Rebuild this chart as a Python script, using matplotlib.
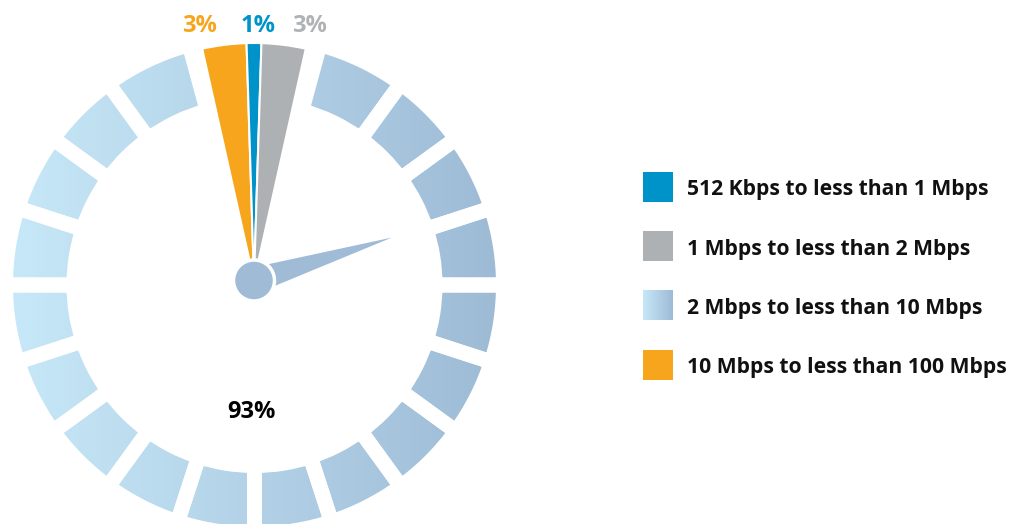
import numpy as np
import matplotlib
matplotlib.use('Agg')
import matplotlib.pyplot as plt
from matplotlib.patches import Wedge, Circle, Polygon, Rectangle
from matplotlib.path import Path
from matplotlib.colors import to_rgb

categories = ['512 Kbps to less than 1 Mbps', '1 Mbps to less than 2 Mbps',
              '2 Mbps to less than 10 Mbps', '10 Mbps to less than 100 Mbps']
shares = [1, 3, 93, 3]
colors = ['#0093c9', '#aeb1b4', None, '#f7a51c']
label_colors = ['#0093c9', '#b0b3b6', 'black', '#f7a51c']
grad_left, grad_right = '#c7e8f8', '#9ebbd6'
needle_color = '#a0bbd6'
needle_angle = 17.3

plt.rcParams['font.family'] = ['Open Sans', 'DejaVu Sans']

fig = plt.figure(figsize=(10.15, 5.24), dpi=100)
ax = fig.add_axes([0, 0, 1, 1])

H = 524
cx, cy = 254, H - 280.5          # hub / pie centre
rx, ry = 254.5, H - 285          # ring centre
pie_r = 237.5
r_out, r_in = 249, 180.5   # ring geometry before white gap stroke trims it
gap_pt = 10.8              # ~15 px white gaps
step = 18

# top wedges: orange, blue, grey, then the 93% ring
order = [3, 0, 1, 2]
start = 90 + shares[0] * 3.6 / 2 + shares[3] * 3.6
wedges, _ = ax.pie([shares[i] for i in order],
                   colors=[colors[i] if colors[i] else 'white' for i in order],
                   startangle=start, counterclock=False, radius=pie_r, center=(cx, cy),
                   wedgeprops=dict(edgecolor='white', linewidth=1.5))
for w in wedges[:3]:
    w.set_zorder(4)
ring = wedges[3]
ring.set_visible(False)

# split the 93% part into segments on an 18 degree grid
lo, hi = ring.theta1 + 2.6, ring.theta2 - 2.6
grid = [a for a in np.arange(90 - 20 * step, 90 + step, step) if lo + 5 < a < hi - 5]
bounds = [lo] + grid + [hi]
segs = [Wedge((rx, ry), r_out, a, b, width=r_out - r_in) for a, b in zip(bounds[:-1], bounds[1:])]

clip = Path.make_compound_path(*[s.get_path() for s in segs])
c0, c1 = np.array(to_rgb(grad_left)), np.array(to_rgb(grad_right))
t = np.linspace(0, 1, 256)[None, :, None]
grad = c0 + (c1 - c0) * t
im = ax.imshow(grad, extent=[rx - 241, rx + 242, ry - r_out, ry + r_out],
               aspect='auto', interpolation='bilinear', zorder=1)
im.set_clip_path(clip, transform=ax.transData)
for s in segs:
    s.set_facecolor('none')
    s.set_edgecolor('white')
    s.set_linewidth(gap_pt)
    s.set_zorder(2)
    ax.add_patch(s)

# needle and hub
th = np.deg2rad(needle_angle)
L, hw = 144.5, 13
ax.add_patch(Polygon([(cx - hw * np.sin(th), cy + hw * np.cos(th)),
                      (cx + hw * np.sin(th), cy - hw * np.cos(th)),
                      (cx + L * np.cos(th), cy + L * np.sin(th))],
                     closed=True, facecolor=needle_color, edgecolor='none', zorder=5))
ax.add_patch(Circle((cx, cy), 20.5, facecolor=needle_color, edgecolor='white',
                    linewidth=2.5, zorder=6))

# percent labels
for i, x, y in [(3, 200, H - 32), (0, 258.5, H - 32), (1, 309.5, H - 32), (2, 251, H - 418)]:
    ax.text(x, y, f'{shares[i]}%', color=label_colors[i], fontsize=17,
            fontweight='bold', ha='center', va='baseline')

# legend
for k, (name, col) in enumerate(zip(categories, colors)):
    yc = H - (187 + 59.2 * k)
    if col is None:
        ax.imshow(grad, extent=[643, 673, yc - 15, yc + 15], aspect='auto',
                  interpolation='bilinear', zorder=1)
    else:
        ax.add_patch(Rectangle((643, yc - 15), 30, 30, facecolor=col, edgecolor='none'))
    ax.text(687, yc - 8.5, name, fontsize=15.2, fontweight='bold',
            color='#111111', ha='left', va='baseline')

ax.set_xlim(0, 1015)
ax.set_ylim(0, H)
ax.set_aspect('auto')
ax.axis('off')

fig.savefig('out.png', dpi=100, facecolor='white')
